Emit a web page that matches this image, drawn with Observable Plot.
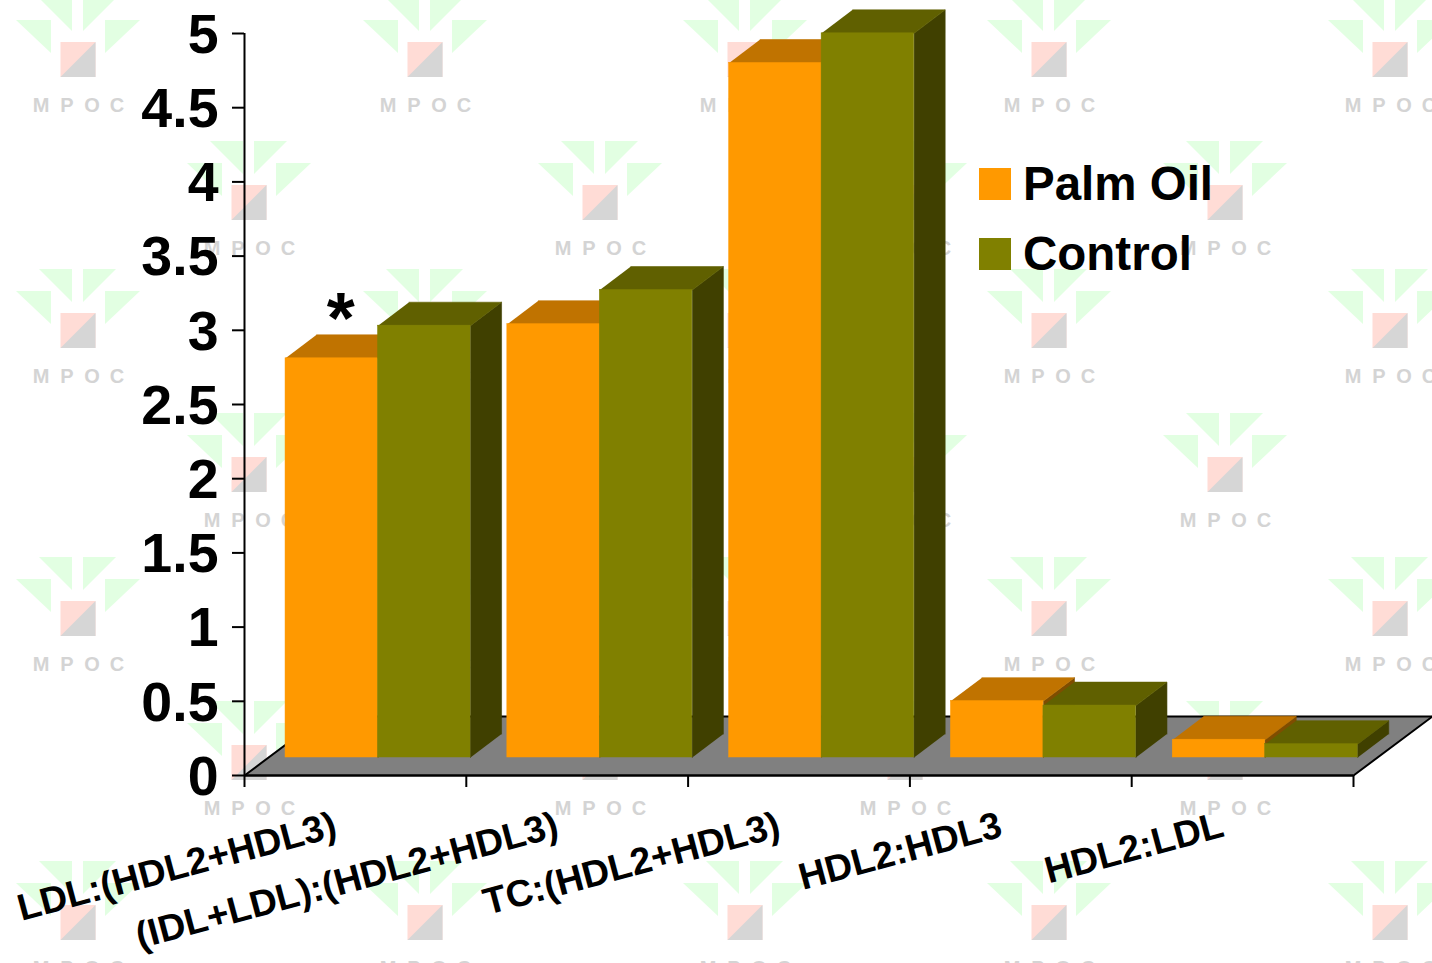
<!DOCTYPE html>
<html>
<head>
<meta charset="utf-8">
<script src="https://cdn.jsdelivr.net/npm/d3@7"></script>
<script src="https://cdn.jsdelivr.net/npm/@observablehq/plot@0.6"></script>
<style>
  html, body { margin: 0; padding: 0; background: #fff; }
  #chart { position: relative; width: 1432px; height: 963px; overflow: hidden; font-family: "Liberation Sans", Arial, sans-serif; }
  #chart svg { display: block; max-width: none; }
  .key { position: absolute; left: 979px; display: flex; align-items: center; height: 32px; font-weight: 700; font-size: 47.5px; color: #000; }
  .key i { display: block; width: 32px; height: 32px; margin-right: 12px; }
  .key span { position: relative; top: -0.5px; }
</style>
</head>
<body>
<div id="chart"></div>
<script>
// Lipoprotein ratios by diet
const categories = ["LDL:(HDL2+HDL3)", "(IDL+LDL):(HDL2+HDL3)", "TC:(HDL2+HDL3)", "HDL2:HDL3", "HDL2:LDL"];
const palmOil = [2.69, 2.92, 4.68, 0.38, 0.12];
const control = [2.91, 3.15, 4.88, 0.35, 0.09];
const yTicks = [0, 0.5, 1, 1.5, 2, 2.5, 3, 3.5, 4, 4.5, 5];

// Background logo rows: top of the square and the centres along that row
const logoRows = [
  [42, [78, 425, 745, 1049, 1390]],
  [185, [249, 600, 905, 1225]],
  [313, [78, 425, 745, 1049, 1390]],
  [457, [249, 600, 905, 1225]],
  [601, [78, 425, 745, 1049, 1390]],
  [745, [249, 600, 905, 1225]],
  [905, [78, 425, 745, 1049, 1390]]
];

// Draws the repeating logo behind the chart
function logoLayer() {
  const g = d3.create("svg:g");
  for (const [top, centres] of logoRows) {
    for (const cx of centres) {
      const l = g.append("g").attr("transform", `translate(${cx},${top})`);
      for (const pts of ["-39,-44 -6,-44 -6,-11", "5,-44 38,-44 5,-11", "-62,-22 -27,-22 -27,11", "27,-22 62,-22 27,11"]) {
        l.append("polygon").attr("points", pts).attr("fill", "#e2ffe2");
      }
      l.append("rect").attr("x", -17.5).attr("width", 35).attr("height", 35).attr("fill", "#ffdcd6");
      l.append("polygon").attr("points", "17.5,0 17.5,35 -17.5,35").attr("fill", "#d6d6d6");
      [-37, -11, 14, 39].forEach((dx, i) => {
        l.append("text").attr("x", dx).attr("y", 70).attr("text-anchor", "middle")
          .attr("font-family", "Liberation Sans, Arial, sans-serif").attr("font-weight", 700)
          .attr("font-size", 20).attr("fill", "#d4d4d4").text("MPOC"[i]);
      });
    }
  }
  return g.node();
}

// Box geometry in scale units; one x unit spans one category
const barStart = 0.185, barWidth = 0.417;
const depthX = 0.14, depthY = 0.158;
const floorX = 0.356, floorY = 0.3976;
const lift = -18; // the boxes stand part-way back on the floor

const rows = (values, slot) => values.map((v, i) => ({
  i, v, x1: i + barStart + slot * barWidth, x2: i + barStart + (slot + 1) * barWidth
}));
const palmRows = rows(palmOil, 0);
const controlRows = rows(control, 1);

const topFace = rs => rs.flatMap(r => [
  {i: r.i, x: r.x1, y: r.v}, {i: r.i, x: r.x2, y: r.v},
  {i: r.i, x: r.x2 + depthX, y: r.v + depthY}, {i: r.i, x: r.x1 + depthX, y: r.v + depthY}
]);
const sideFace = rs => rs.flatMap(r => [
  {i: r.i, x: r.x2, y: 0}, {i: r.i, x: r.x2, y: r.v},
  {i: r.i, x: r.x2 + depthX, y: r.v + depthY}, {i: r.i, x: r.x2 + depthX, y: depthY}
]);

// A thin stroke in the face's own colour closes the seams between faces
const face = (pts, fill) => Plot.line(pts, {x: "x", y: "y", z: "i", fill, stroke: fill, strokeWidth: 0.6, dy: lift});
const front = (rs, fill) => Plot.rectY(rs, {x1: "x1", x2: "x2", y1: 0, y2: "v", fill, stroke: fill, strokeWidth: 0.5, dy: lift});
const edge = (x1, y1, x2, y2) => Plot.line([{x: x1, y: y1}, {x: x2, y: y2}], {x: "x", y: "y", stroke: "#000", strokeWidth: 2});

const bold = {fontFamily: "Liberation Sans, Arial, sans-serif", fontWeight: 700};

const chart = Plot.plot({
  width: 1432, height: 963,
  marginLeft: 244, marginRight: 79, marginTop: 33, marginBottom: 188,
  style: {background: "transparent", overflow: "hidden"},
  x: {type: "linear", domain: [0, 5], axis: null},
  y: {type: "linear", domain: [0, 5], axis: null},
  marks: [
    logoLayer,
    // floor
    Plot.line([{x: 0, y: 0}, {x: 5, y: 0}, {x: 5 + floorX, y: floorY}, {x: floorX, y: floorY}],
      {x: "x", y: "y", fill: "#808080", stroke: "none"}),
    edge(0, 0, floorX, floorY),
    edge(5, 0, 5 + floorX, floorY),
    edge(floorX, floorY, 5 + floorX, floorY),
    // boxes, back to front
    face(sideFace(palmRows), "#7f4d00"),
    face(topFace(palmRows), "#c07300"),
    front(palmRows, "#ff9900"),
    face(sideFace(controlRows), "#404000"),
    face(topFace(controlRows), "#606000"),
    front(controlRows, "#808000"),
    // axes
    Plot.ruleY([0], {stroke: "#000", strokeWidth: 2.5}),
    Plot.ruleX([0], {y1: 0, y2: 5, stroke: "#000", strokeWidth: 2}),
    Plot.axisY({ticks: yTicks, tickSize: 12, tickFormat: () => "", stroke: "#000", strokeWidth: 2, label: null}),
    Plot.axisY({ticks: yTicks, tickSize: 0, tickPadding: 26, dy: 1.5, tickFormat: d => String(d), fontSize: 55.5, ...bold, fill: "#000", label: null}),
    Plot.axisX({ticks: [0, 1, 2, 3, 4, 5], tickSize: 12, tickFormat: () => "", stroke: "#000", strokeWidth: 2, label: null}),
    Plot.text(categories, {
      x: (d, i) => i + 0.5, frameAnchor: "bottom", text: d => d, rotate: -15,
      textAnchor: "end", lineAnchor: "middle", dx: -20, dy: 49, fontSize: 37.5, ...bold, fill: "#000"
    }),
    // significance mark over the first palm oil box
    Plot.text(["*"], {
      x: () => palmRows[0].x1 + barWidth / 2, y: () => palmOil[0], text: d => d,
      dx: 9, dy: -56, fontSize: 72, ...bold, fill: "#000"
    })
  ]
});

const root = document.getElementById("chart");
root.append(chart);

// Key placed in the empty space right of the tallest boxes
[["Palm Oil", "#ff9900", 168], ["Control", "#808000", 238]].forEach(([label, colour, top]) => {
  const k = document.createElement("div");
  k.className = "key";
  k.style.top = top + "px";
  const swatch = document.createElement("i");
  swatch.style.background = colour;
  const name = document.createElement("span");
  name.textContent = label;
  k.append(swatch, name);
  root.append(k);
});
</script>
</body>
</html>
